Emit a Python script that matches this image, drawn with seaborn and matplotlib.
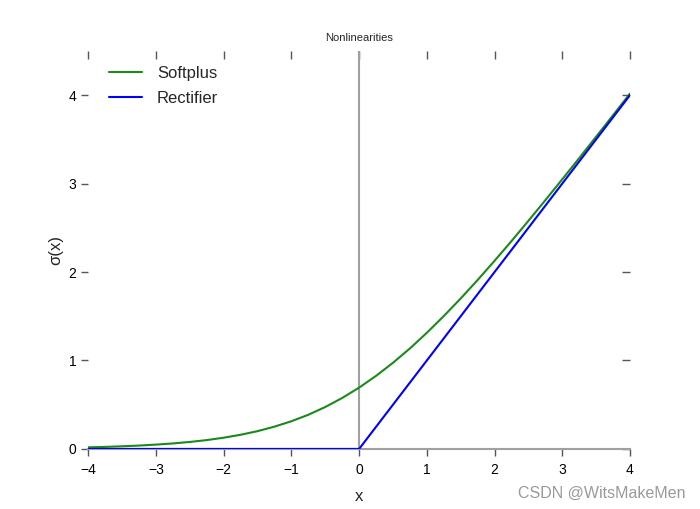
import numpy as np
import pandas as pd
import matplotlib
matplotlib.use("Agg")
import matplotlib.pyplot as plt
import seaborn as sns

# values
softplus_x = [-4.0, -3.75, -3.5, -3.25, -3.0, -2.75, -2.5, -2.25, -2.0, -1.75, -1.5,
              -1.25, -1.0, -0.75, -0.5, -0.25, 0.0, 0.25, 0.5, 0.75, 1.0, 1.25,
              1.5, 1.75, 2.0, 2.25, 2.5, 2.75, 3.0, 3.25, 3.5, 3.75, 4.0]
softplus_y = [0.018, 0.023, 0.030, 0.038, 0.049, 0.062, 0.079, 0.100, 0.127, 0.160, 0.201,
              0.252, 0.313, 0.386, 0.474, 0.576, 0.693, 0.826, 0.974, 1.136, 1.313, 1.502,
              1.701, 1.910, 2.127, 2.350, 2.579, 2.812, 3.049, 3.288, 3.530, 3.773, 4.018]
rectifier_x = [-4.0, 0.0, 4.0]
rectifier_y = [0.0, 0.0, 4.0]
x_ticks = [-4, -3, -2, -1, 0, 1, 2, 3, 4]
y_ticks = [0, 1, 2, 3, 4]

sns.set_style("white")
plt.rcParams['font.family'] = ['Liberation Sans', 'DejaVu Sans']

df = pd.concat([
    pd.DataFrame({'x': softplus_x, 'y': softplus_y, 'name': 'Softplus'}),
    pd.DataFrame({'x': rectifier_x, 'y': rectifier_y, 'name': 'Rectifier'}),
])

fig = plt.figure(figsize=(7, 5.09), dpi=100)
ax = fig.add_axes([0.126, 0.118, 0.774, 0.782])

ax.axvline(0, color='#a0a0a0', linewidth=1.5, zorder=1)
sns.lineplot(data=df, x='x', y='y', hue='name', sort=False,
             palette={'Softplus': '#1a8a1a', 'Rectifier': '#0000ff'},
             linewidth=1.5, ax=ax, zorder=3)

ax.set_xlim(-4, 4)
ax.set_ylim(0, 4.5)
ax.set_xticks(x_ticks)
ax.set_yticks(y_ticks)

for s in ['left', 'right', 'top']:
    ax.spines[s].set_visible(False)
ax.spines['bottom'].set_color('#a0a0a0')
ax.spines['bottom'].set_linewidth(1.5)

# outward ticks on bottom / left
ax.tick_params(axis='both', which='major', labelsize=10, colors='#555555',
               labelcolor='black', width=1, length=5, direction='out',
               bottom=True, left=True, top=False, right=False)
ax.tick_params(axis='x', pad=5)

# inward ticks on top / right, no labels
top = ax.secondary_xaxis('top')
top.set_xticks(x_ticks)
top.tick_params(direction='in', length=6, width=1, colors='#555555', labeltop=False)
top.spines['top'].set_visible(False)
right = ax.secondary_yaxis('right')
right.set_yticks(y_ticks)
right.tick_params(direction='in', length=6, width=1, colors='#555555', labelright=False)
right.spines['right'].set_visible(False)

ax.set_title('Nonlinearities', fontsize=8, pad=7)
ax.set_xlabel('x', fontsize=12, labelpad=9)
ax.set_ylabel('σ(x)', fontsize=12, labelpad=4)

leg = ax.legend(loc='upper left', frameon=False, fontsize=12,
                bbox_to_anchor=(0.01, 1.0), handlelength=2.0,
                handletextpad=0.9, labelspacing=0.6)

fig.text(0.98, 0.03, 'CSDN @WitsMakeMen', ha='right', va='center',
         fontsize=11.5, color='#9a9a9a')

fig.savefig('out.png', dpi=100)
